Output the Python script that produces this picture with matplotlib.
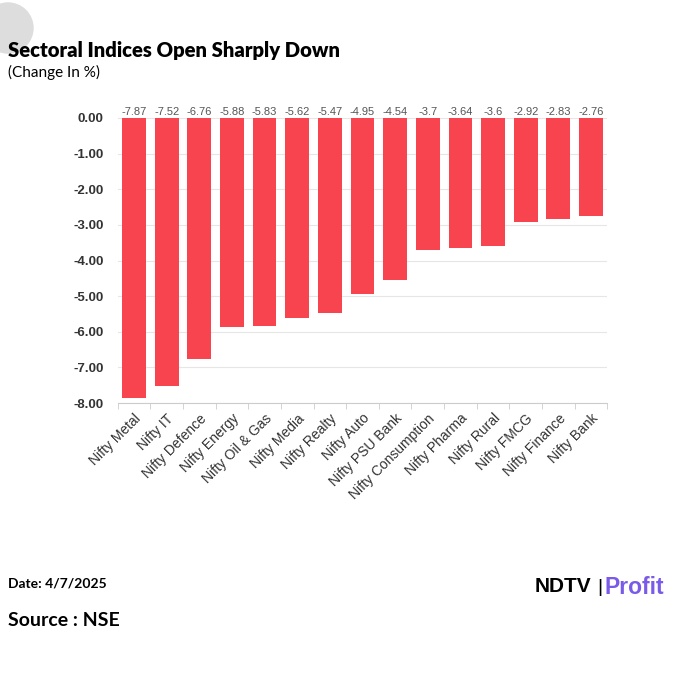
import matplotlib.pyplot as plt
from matplotlib.patches import Circle

# data
sectors = ["Nifty Metal", "Nifty IT", "Nifty Defence", "Nifty Energy", "Nifty Oil & Gas",
           "Nifty Media", "Nifty Realty", "Nifty Auto", "Nifty PSU Bank", "Nifty Consumption",
           "Nifty Pharma", "Nifty Rural", "Nifty FMCG", "Nifty Finance", "Nifty Bank"]
change = [-7.87, -7.52, -6.76, -5.88, -5.83, -5.62, -5.47, -4.95, -4.54, -3.7,
          -3.64, -3.6, -2.92, -2.83, -2.76]
change_labels = ["-7.87", "-7.52", "-6.76", "-5.88", "-5.83", "-5.62", "-5.47", "-4.95",
                 "-4.54", "-3.7", "-3.64", "-3.6", "-2.92", "-2.83", "-2.76"]
y_ticks = [0, -1, -2, -3, -4, -5, -6, -7, -8]

bar_color = "#F7444E"

fig = plt.figure(figsize=(6.75, 6.75), dpi=100)
ax = fig.add_axes([117.7 / 675, 1 - 403 / 675, (607.3 - 117.7) / 675, (403 - 118) / 675])

x = list(range(len(sectors)))
ax.bar(x, change, width=0.73, color=bar_color, zorder=3)

for xi, lab in zip(x, change_labels):
    ax.text(xi, 0.02, lab, ha="center", va="bottom", fontsize=8,
            color="#555555", family="Liberation Sans", clip_on=False)

ax.set_xlim(-0.5, len(sectors) - 0.5)
ax.set_ylim(-8, 0)
ax.set_yticks(y_ticks)
ax.set_yticklabels([f"{v:.2f}" for v in y_ticks], fontsize=9.5, fontweight="bold",
                   color="#333333", family="Liberation Sans")
ax.tick_params(axis="y", length=0, pad=10)
ax.grid(axis="y", color="#e6e6e6", linewidth=0.8, zorder=0)

ax.set_xticks([i - 0.5 for i in range(len(sectors) + 1)], minor=True)
ax.set_xticks(x)
ax.set_xticklabels(sectors, rotation=45, ha="right", rotation_mode="anchor",
                   fontsize=10, color="#333333", family="Liberation Sans")
ax.tick_params(axis="x", which="major", length=0, pad=6)
ax.tick_params(axis="x", which="minor", length=4, color="#cccccc")

for s in ["top", "right", "left"]:
    ax.spines[s].set_visible(False)
ax.spines["bottom"].set_color("#cccccc")

# header
fig.patches.append(Circle((8 / 675, 1 - 28 / 675), 25 / 675, transform=fig.transFigure,
                          color="#dddddd", zorder=0))
fig.text(8 / 675, 1 - 50 / 675, "Sectoral Indices Open Sharply Down", fontsize=14.6,
         fontweight="heavy", family="Lato", va="center", ha="left", color="black")
fig.text(8 / 675, 1 - 72 / 675, "(Change In %)", fontsize=11, family="Lato",
         va="center", ha="left", color="black")

# footer
fig.text(8 / 675, 1 - 584 / 675, "Date: 4/7/2025", fontsize=10, fontweight="bold",
         family="Lato", va="center", ha="left")
fig.text(8 / 675, 1 - 620 / 675, "Source : NSE", fontsize=14, fontweight="bold",
         family="Lato", va="center", ha="left")
fig.text(535 / 675, 1 - 587 / 675, "NDTV", fontsize=15, fontweight="heavy",
         family="Liberation Sans", va="center", ha="left", color="black")
fig.text(597 / 675, 1 - 587 / 675, "|", fontsize=14, family="Liberation Sans",
         va="center", ha="left", color="black")
fig.text(604 / 675, 1 - 587 / 675, "Profit", fontsize=16.5, fontweight="heavy",
         family="Liberation Sans", va="center", ha="left", color="#7a5ae8")

fig.savefig("out.png", dpi=100, facecolor="white")
